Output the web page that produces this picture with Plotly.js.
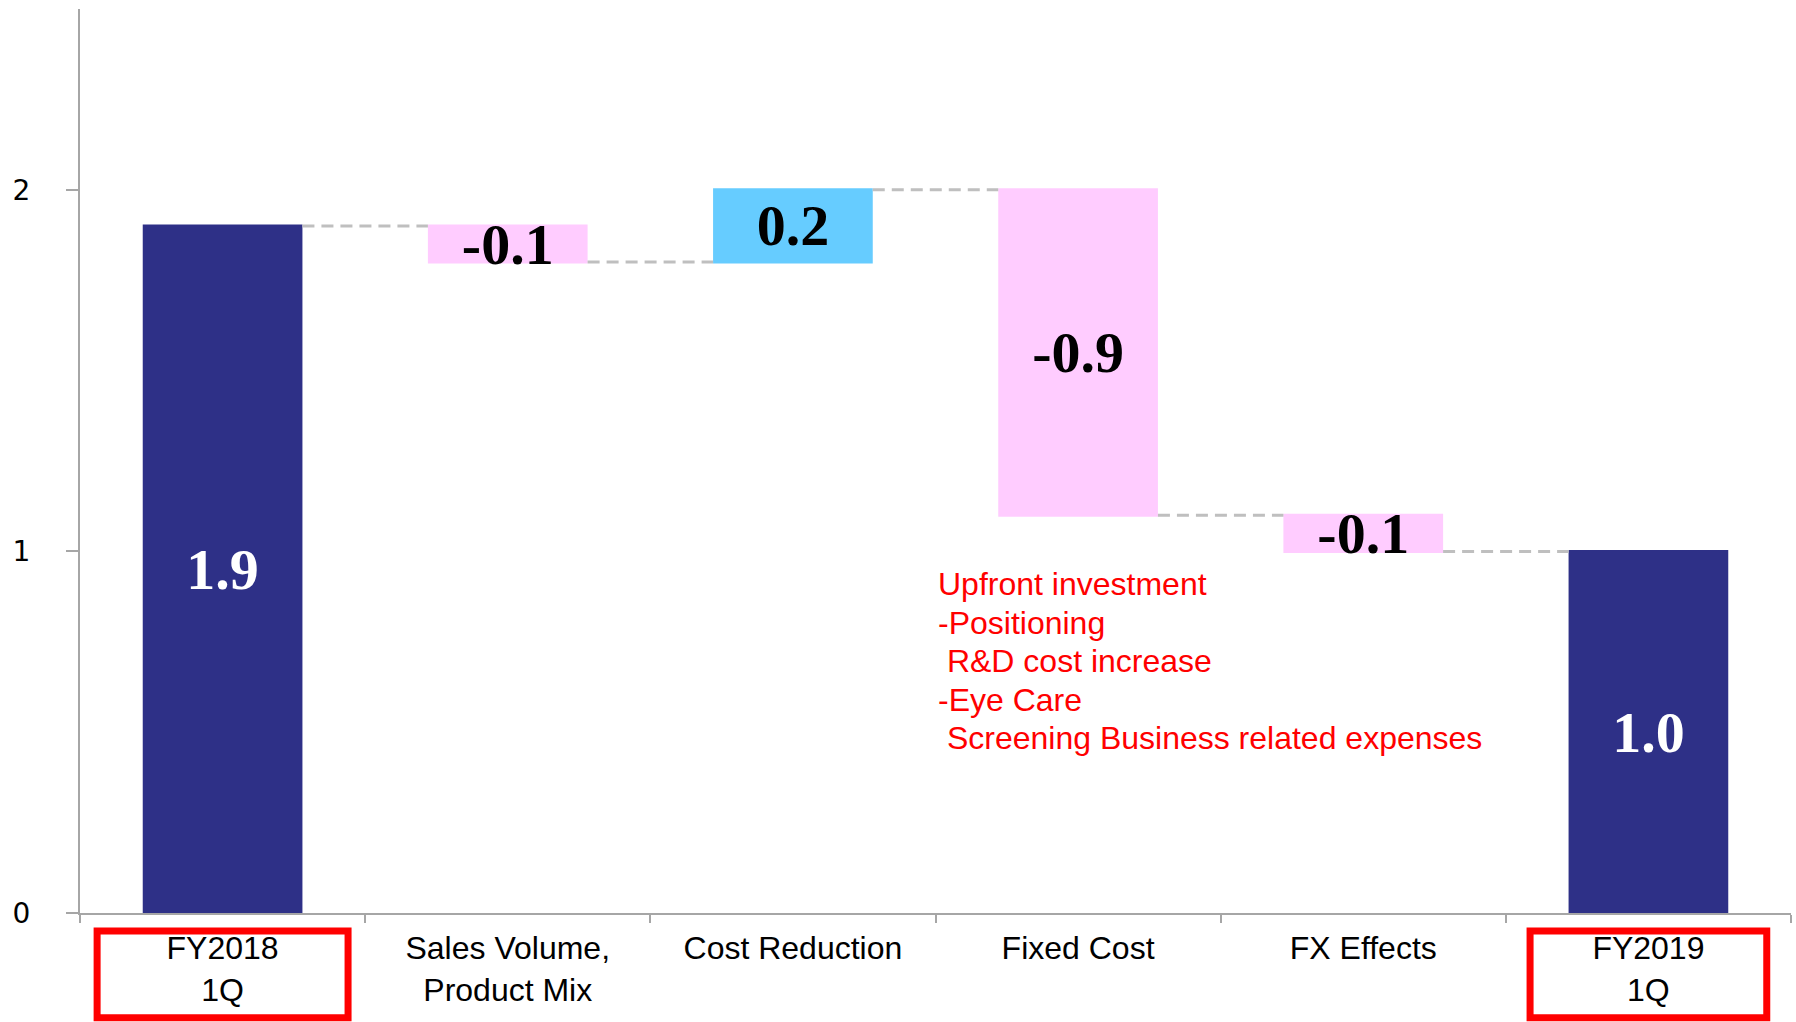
<!DOCTYPE html>
<html>
<head>
<meta charset="utf-8">
<script src="https://cdn.plot.ly/plotly-3.0.1.min.js"></script>
<style>html,body{margin:0;padding:0;background:#fff;}</style>
</head>
<body>
<div id="chart" style="width:1796px;height:1022px;"></div>
<script>
const categories = ["FY2018<br>1Q", "Sales Volume,<br>Product Mix", "Cost Reduction", "Fixed Cost", "FX Effects", "FY2019<br>1Q"];
const values = [1.9, -0.1, 0.2, -0.9, -0.1, 1.0];
const measures = ["absolute", "relative", "relative", "relative", "relative", "total"];
const valueLabels = ["1.9", "-0.1", "0.2", "-0.9", "-0.1", "1.0"];
const labelColors = ["#FFFFFF", "#000000", "#000000", "#000000", "#000000", "#FFFFFF"];
const highlighted = [0, 5];
const highlightHalfWidths = [0.44, 0.415];
const noteLines = ["Upfront investment", "-Positioning", " R&D cost increase", "-Eye Care", " Screening Business related expenses"];
const yTicks = [0, 1, 2];

const trace = {
  type: "waterfall",
  x: categories,
  y: values,
  measure: measures,
  text: valueLabels,
  textposition: "inside",
  insidetextanchor: "middle",
  constraintext: "none",
  textfont: {family: "Liberation Serif, Times New Roman, serif", size: 58, color: labelColors, weight: "bold"},
  insidetextfont: {family: "Liberation Serif, Times New Roman, serif", size: 58, color: labelColors, weight: "bold"},
  increasing: {marker: {color: "#66CCFF"}},
  decreasing: {marker: {color: "#FFCCFF"}},
  totals: {marker: {color: "#2E3087"}},
  connector: {mode: "between", line: {color: "#BFBFBF", width: 3, dash: "12px,7px"}},
  hoverinfo: "skip",
  cliponaxis: false
};

const shapes = highlighted.map((i, k) => ({
  type: "rect", xref: "x", yref: "paper",
  x0: i - highlightHalfWidths[k], x1: i + highlightHalfWidths[k], y0: -0.02, y1: -0.116,
  line: {color: "#FF0000", width: 7}, fillcolor: "rgba(0,0,0,0)"
}));

const annotations = noteLines.map((line, i) => ({
  xref: "x", yref: "y",
  x: 3, y: 1.0, xshift: -142, yshift: -33 - i * 38.4,
  xanchor: "left", yanchor: "middle", align: "left",
  text: line,
  showarrow: false,
  font: {family: "Liberation Sans, Arial, sans-serif", size: 32, color: "#FF0000"}
}));

const layout = {
  width: 1796, height: 1022,
  margin: {l: 80, r: 5, t: 9, b: 109},
  paper_bgcolor: "#FFFFFF", plot_bgcolor: "#FFFFFF",
  showlegend: false,
  waterfallgap: 0.44,
  font: {family: "Liberation Sans, Arial, sans-serif", color: "#000000"},
  xaxis: {
    type: "category",
    showline: true, linecolor: "#A6A6A6", linewidth: 2,
    ticks: "outside", tickson: "boundaries", ticklen: 8, tickcolor: "#A6A6A6", tickwidth: 2,
    tickfont: {family: "Liberation Sans, Arial, sans-serif", size: 32, color: "#000000"},
    ticklabelstandoff: 6,
    showgrid: false, zeroline: false, fixedrange: true
  },
  yaxis: {
    range: [0, 2.5],
    tickvals: yTicks, ticktext: yTicks.map(String),
    showline: true, linecolor: "#A6A6A6", linewidth: 2,
    ticks: "outside", ticklen: 12, tickcolor: "#A6A6A6", tickwidth: 2,
    tickfont: {family: "DejaVu Sans, Verdana, sans-serif", size: 28, color: "#000000"},
    ticklabelstandoff: 30,
    showgrid: false, zeroline: false, fixedrange: true
  },
  shapes: shapes,
  annotations: annotations
};

Plotly.newPlot("chart", [trace], layout, {displayModeBar: false, staticPlot: true});
</script>
</body>
</html>
